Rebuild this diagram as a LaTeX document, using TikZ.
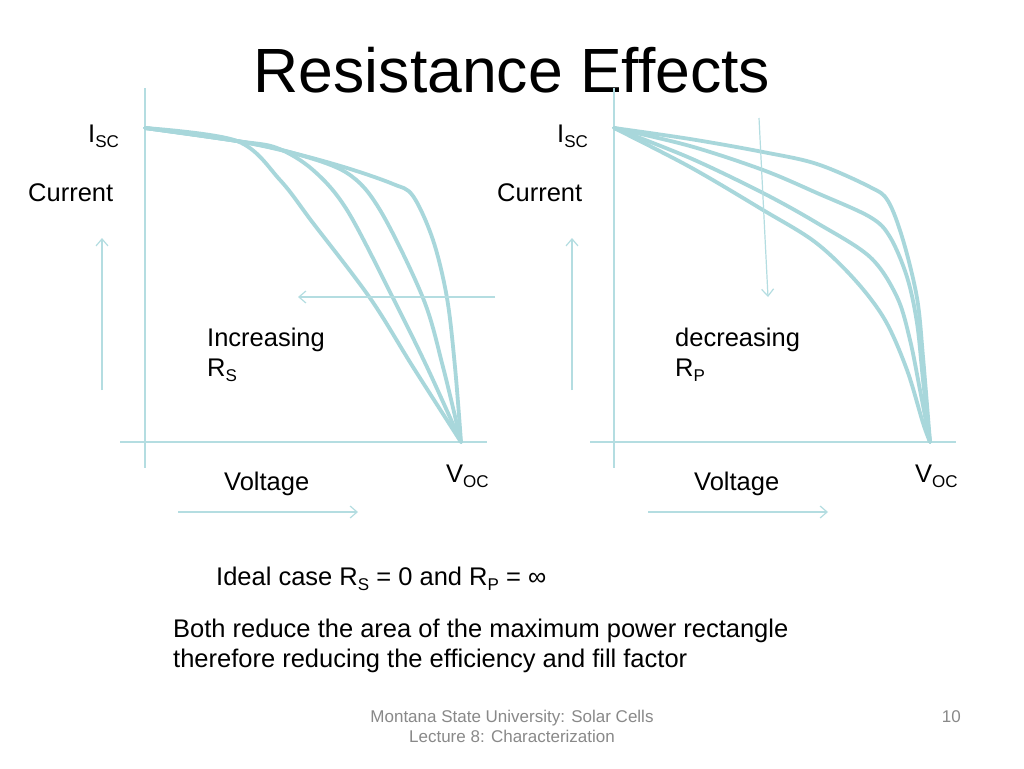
\documentclass[tikz,border=0pt]{standalone}
\usepackage{fontspec}
\setmainfont{Liberation Sans}
\usetikzlibrary{arrows.meta}
\definecolor{curvecol}{RGB}{168,215,219}
\definecolor{axiscol}{RGB}{180,221,225}
\definecolor{footcol}{RGB}{137,137,137}
\newcommand\sbs[1]{\raisebox{-5pt}{\fontsize{17}{17}\selectfont #1}}
\begin{document}
\begin{tikzpicture}[x=1pt,y=-1pt,
  ivc/.style={draw=curvecol, line width=3.8pt, line cap=round, line join=round},
  axisline/.style={draw=axiscol, line width=1.2pt},
  dirarrow/.style={draw=axiscol, line width=1.2pt, -{Straight Barb[length=7pt,width=12pt]}},
  lbl/.style={anchor=base west, inner sep=0pt, font=\fontsize{25.5}{30}\selectfont},
  foot/.style={anchor=base, inner sep=0pt, text=footcol, font=\fontsize{17}{20}\selectfont}]
\useasboundingbox[fill=white] (0,0) rectangle (1024,768);

% title
\node[anchor=base, inner sep=0pt, font=\fontsize{62.5}{70}\selectfont] (title) at (512,92) {Resistance Effects};

% ---------- left panel: axes ----------
\coordinate (lyt) at (145,88);  \coordinate (lyb) at (145,468);
\coordinate (lxl) at (120,442); \coordinate (lxr) at (487,442);
\draw[axisline] (lyt) -- (lyb);
\draw[axisline] (lxl) -- (lxr);

% left curves (increasing Rs)
\draw[ivc] plot[smooth, tension=0.55] coordinates {(145,128) (237,141) (280,180) (313,223) (370,298) (413,367) (461,442)};
\draw[ivc] plot[smooth, tension=0.55] coordinates {(145,128) (237,141) (277,148) (313,170) (347,210) (393,298) (427,367) (461,442)};
\draw[ivc] plot[smooth, tension=0.55] coordinates {(145,128) (237,141) (293,153) (347,173) (380,210) (423,298) (443,367) (461,442)};
\draw[ivc] plot[smooth, tension=0.55] coordinates {(145,128) (237,141) (293,153) (347,168) (393,184) (413,196) (433,240) (447,298) (455,367) (461,442)};

% left arrows
\coordinate (rsa) at (495,297); \coordinate (rsb) at (298,297);
\draw[dirarrow] (rsa) -- (rsb);
\coordinate (lca) at (102,390); \coordinate (lcb) at (102,238);
\draw[dirarrow] (lca) -- (lcb);
\coordinate (lva) at (178,512); \coordinate (lvb) at (358,512);
\draw[dirarrow] (lva) -- (lvb);

% left labels
\node[lbl] (lisc) at (88,142) {I\sbs{SC}};
\node[lbl] (lcur) at (28,201) {Current};
\node[lbl] (linc) at (207,346) {Increasing};
\node[lbl] (lrs) at (207,376) {R\sbs{S}};
\node[lbl] (lvol) at (224,490) {Voltage};
\node[lbl] (lvoc) at (446,482) {V\sbs{OC}};

% ---------- right panel: axes ----------
\coordinate (ryt) at (614,88);  \coordinate (ryb) at (614,468);
\coordinate (rxl) at (590,442); \coordinate (rxr) at (956,442);
\draw[axisline] (ryt) -- (ryb);
\draw[axisline] (rxl) -- (rxr);

% right curves (decreasing Rp)
\draw[ivc] plot[smooth, tension=0.55] coordinates {(614,128) (690,139) (763,152) (817,164) (870,187) (888,201) (903,240) (917,298) (923,357) (930,442)};
\draw[ivc] plot[smooth, tension=0.55] coordinates {(614,128) (690,146) (763,170) (817,193) (870,217) (890,237) (907,277) (917,323) (923,380) (930,442)};
\draw[ivc] plot[smooth, tension=0.55] coordinates {(614,128) (690,158) (763,193) (817,223) (870,257) (897,297) (910,340) (920,390) (930,442)};
\draw[ivc] plot[smooth, tension=0.55] coordinates {(614,128) (690,167) (763,210) (815,242) (855,280) (885,320) (907,370) (923,423) (930,442)};

% right arrows
\coordinate (rpa) at (759,118); \coordinate (rpb) at (768,297);
\draw[dirarrow] (rpa) -- (rpb);
\coordinate (rca) at (572,390); \coordinate (rcb) at (572,238);
\draw[dirarrow] (rca) -- (rcb);
\coordinate (rva) at (648,512); \coordinate (rvb) at (828,512);
\draw[dirarrow] (rva) -- (rvb);

% right labels
\node[lbl] (risc) at (557,142) {I\sbs{SC}};
\node[lbl] (rcur) at (497,201) {Current};
\node[lbl] (rdec) at (675,346) {decreasing};
\node[lbl] (rrp) at (675,376) {R\sbs{P}};
\node[lbl] (rvol) at (694,490) {Voltage};
\node[lbl] (rvoc) at (915,482) {V\sbs{OC}};

% bottom text
\node[lbl] (ideal) at (216,585) {Ideal case R\sbs{S} = 0 and R\sbs{P} = ∞};
\node[lbl] (both1) at (173,637) {Both reduce the area of the maximum power rectangle};
\node[lbl] (both2) at (173,667) {therefore reducing the efficiency and fill factor};

% footer
\node[foot] (f1) at (512,722) {Montana State University: Solar Cells};
\node[foot] (f2) at (512,742) {Lecture 8: Characterization};
\node[foot, anchor=base east] (pg) at (961,722) {10};
\end{tikzpicture}
\end{document}
